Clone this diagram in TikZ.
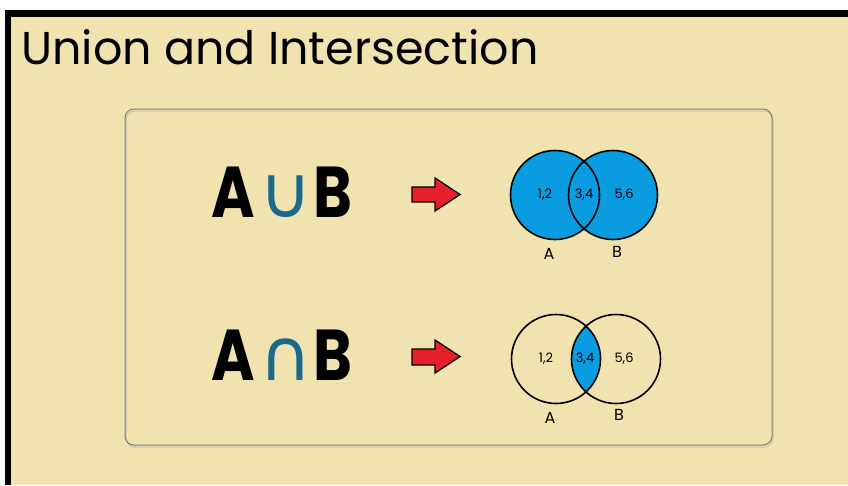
\documentclass[tikz,border=0pt]{standalone}
\usepackage{fontspec}
\setmainfont{Poppins}
\newfontfamily\symfont{DejaVu Sans}
\definecolor{beige}{HTML}{F0E3B0}
\definecolor{vennblue}{HTML}{0A9CE0}
\definecolor{opteal}{HTML}{1B6A8E}
\definecolor{arrowred}{HTML}{E5202A}
\definecolor{boxline}{HTML}{8A7F6C}
\tikzset{
  lbl/.style={font=\fontsize{13}{13}\selectfont, inner sep=0pt},
  setname/.style={font=\fontsize{16}{16}\selectfont, inner sep=0pt},
  expr/.style={font=\fontsize{72}{72}\selectfont\bfseries, inner sep=0pt, anchor=base west},
  bigarrow/.style={fill=arrowred, draw=black, line width=1.3pt, line join=miter},
  venn/.style={draw=black, line width=1.6pt},
}
\begin{document}
\begin{tikzpicture}[x=1pt,y=-1pt]
\useasboundingbox (0,0) rectangle (848,485);
\fill[white] (0,0) rectangle (848,485);
\fill[black] (5,10) rectangle (848,485);
\fill[beige] (11,17) rectangle (848,485);
% title
\node[anchor=base west, inner sep=0pt, font=\fontsize{46}{46}\selectfont] (title) at (21,64) {Union and Intersection};
% panel
\draw[black!25, line width=1pt, rounded corners=9pt] (126,111) rectangle (773,447);
\draw[boxline, line width=1pt, rounded corners=9pt] (125,109) rectangle (772,445);
% expressions
\node[expr] (union) at (211,217) {\scalebox{0.82}[1]{A}\hspace{5pt}{\symfont\mdseries\color{opteal}∪}\hspace{1pt}\scalebox{0.82}[1]{B}};
\node[expr] (inter) at (211,380) {\scalebox{0.82}[1]{A}\hspace{5pt}{\symfont\mdseries\color{opteal}∩}\hspace{1pt}\scalebox{0.82}[1]{B}};
% arrows
\draw[bigarrow] (412,187) -- (435,187) -- (435,178) -- (460,194.5) -- (435,211) -- (435,202) -- (412,202) -- cycle;
\draw[bigarrow] (412,349) -- (435,349) -- (435,340) -- (460,356.5) -- (435,373) -- (435,365) -- (412,365) -- cycle;
% union venn
\coordinate (ua) at (555,195);
\coordinate (ub) at (613,195);
\fill[vennblue] (ua) circle[radius=44.5pt];
\fill[vennblue] (ub) circle[radius=44.5pt];
\draw[venn] (ua) circle[radius=44.5pt];
\draw[venn] (ub) circle[radius=44.5pt];
\node[lbl] (u12) at (545,195) {1,2};
\node[lbl] (u34) at (584,195) {3,4};
\node[lbl] (u56) at (624,195) {5,6};
\node[setname] (uA) at (549,254) {A};
\node[setname] (uB) at (617,252) {B};
% intersection venn
\coordinate (ia) at (556,359);
\coordinate (ib) at (616,359);
\begin{scope}
\clip (ia) circle[radius=44.5pt];
\fill[vennblue] (ib) circle[radius=44.5pt];
\end{scope}
\draw[venn] (ia) circle[radius=44.5pt];
\draw[venn] (ib) circle[radius=44.5pt];
\node[lbl] (i12) at (546,359) {1,2};
\node[lbl] (i34) at (585,359) {3,4};
\node[lbl] (i56) at (624,359) {5,6};
\node[setname] (iA) at (550,418) {A};
\node[setname] (iB) at (619,415) {B};
\end{tikzpicture}
\end{document}
